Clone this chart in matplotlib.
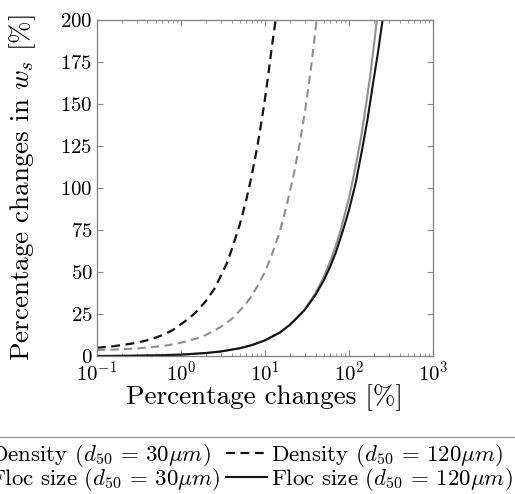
import numpy as np
import matplotlib
matplotlib.use('Agg')
import matplotlib.pyplot as plt

plt.rcParams['font.family'] = ['cmr10', 'DejaVu Serif']
plt.rcParams['mathtext.fontset'] = 'cm'
plt.rcParams['axes.unicode_minus'] = False
plt.rcParams['axes.formatter.use_mathtext'] = True

# values (x in %, y in %)
dens30_x = [0.1, 0.2, 0.3, 0.5, 0.7, 1, 1.5, 2, 3, 4, 5, 6, 7, 8, 10, 12, 15, 18,
            22, 26, 30, 35, 41.2]
dens30_y = [3.6, 4.1, 4.6, 5.6, 6.5, 8, 10.3, 12.7, 17.5, 22, 27, 31.5, 36, 41, 50,
            60, 74, 89, 108, 127, 146, 170, 200]

dens120_x = [0.1, 0.15, 0.2, 0.3, 0.4, 0.5, 0.6, 0.8, 1, 1.25, 1.5, 2, 2.5, 3, 3.5,
             4, 5, 6, 7, 8, 9, 10, 11, 12, 13.4]
dens120_y = [5.0, 5.8, 6.6, 8.0, 9.5, 11, 12.5, 15.5, 19, 22.5, 26, 33, 40, 48, 55,
             63, 78, 93, 108, 123, 138, 153, 168, 183, 200]

floc30_x = [0.1, 0.2, 0.5, 1, 2, 3, 5, 7, 10, 15, 20, 25, 30, 40, 50, 60, 70, 80,
            100, 120, 140, 160, 180, 200, 214]
floc30_y = [0.1, 0.2, 0.5, 0.9, 1.9, 2.8, 4.7, 6.6, 9.4, 14, 19, 23.5, 28, 37.5, 47,
            56.5, 66, 75.5, 94, 113, 131, 150, 168, 187, 200]

floc120_x = [0.1, 0.2, 0.5, 1, 2, 3, 5, 7, 10, 15, 20, 30, 40, 50, 60, 70, 85, 100,
             120, 142, 165, 190, 220, 251]
floc120_y = [0.1, 0.2, 0.5, 0.9, 1.9, 2.8, 4.7, 6.6, 9.4, 14, 18.8, 27.8, 36.5, 45,
             53.5, 62, 75, 87, 103, 122, 140, 160, 180, 200]

labels = [r'Density ($d_{50} \,=\, 30\mu m$)', r'Density ($d_{50} \,=\, 120\mu m$)',
          r'Floc size ($d_{50} \,=\, 30\mu m$)', r'Floc size ($d_{50} \,=\, 120\mu m$)']

gray = '#8f8f8f'
dark = '#141414'

fig = plt.figure(figsize=(5.15, 4.94), dpi=100)
ax = fig.add_axes([0.188, 0.279, 0.653, 0.681])

l1, = ax.plot(dens30_x, dens30_y, color=gray, lw=1.5, ls=(0, (4, 2.5)), label=labels[0])
l2, = ax.plot(dens120_x, dens120_y, color=dark, lw=1.6, ls=(0, (4, 2.5)), label=labels[1])
l3, = ax.plot(floc30_x, floc30_y, color=gray, lw=1.5, label=labels[2])
l4, = ax.plot(floc120_x, floc120_y, color=dark, lw=1.5, label=labels[3])

ax.set_xscale('log')
ax.set_xlim(0.1, 1000)
ax.set_ylim(0, 200)
ax.set_yticks([0, 25, 50, 75, 100, 125, 150, 175, 200])
ax.tick_params(which='both', direction='in', top=True, right=True, colors='0.55',
               labelcolor='black', labelsize=15)
ax.tick_params(which='major', length=4, pad=3)
ax.tick_params(which='minor', length=2.5)
for s in ax.spines.values():
    s.set_color('0.5')
    s.set_linewidth(0.9)

ax.set_xlabel(r'Percentage changes [%]', fontsize=19.5, labelpad=0)
ax.set_ylabel(r'Percentage changes in $w_s$ [%]', fontsize=19.5)
ax.yaxis.set_label_coords(-0.175, 0.5)

# legend is wider than the figure, as in the original (left column handles cut off)
leg = fig.legend([l1, l3, l2, l4], [labels[0], labels[2], labels[1], labels[3]],
                 ncol=2, loc='upper right', bbox_to_anchor=(1.004, 0.1154),
                 borderaxespad=0, fontsize=16.5, frameon=True, fancybox=False,
                 edgecolor='0.5', handlelength=1.8, handletextpad=0.15,
                 columnspacing=0.25, labelspacing=-0.1, borderpad=0.2)
leg.get_frame().set_linewidth(0.9)

fig.savefig('out.png', dpi=100)
